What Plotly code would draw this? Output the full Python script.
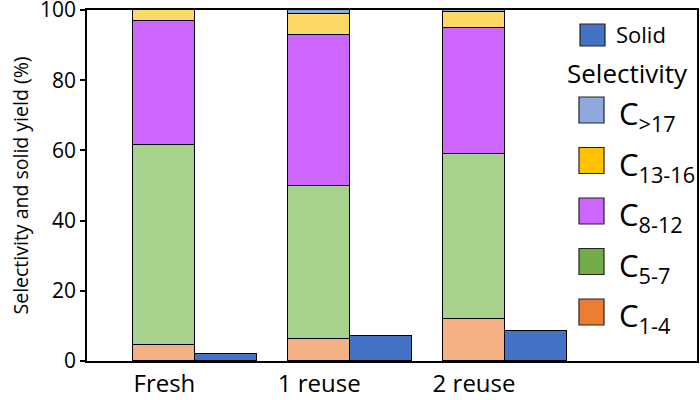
import plotly.graph_objects as go

_FONT = "Open Sans, sans-serif"
_EDGE = "#000000"

# ---- data (percent) ----
categories = ["Fresh", "1 reuse", "2 reuse"]
c1_4 = [4.6, 6.2, 11.9]
c5_7 = [57.0, 43.7, 47.2]
c8_12 = [35.4, 43.0, 35.7]
c13_16 = [3.0, 6.0, 4.5]
c_gt17 = [0.0, 1.1, 0.7]
solid_yield = [2.0, 7.0, 8.6]

# segment name, bar fill, legend swatch
fractions = [
    ("C<sub>1-4</sub>", c1_4, "#F4B183", "#ED7D31"),
    ("C<sub>5-7</sub>", c5_7, "#A9D18E", "#70AD47"),
    ("C<sub>8-12</sub>", c8_12, "#CC66FF", "#CC66FF"),
    ("C<sub>13-16</sub>", c13_16, "#FFD966", "#FFC000"),
    ("C<sub>&gt;17</sub>", c_gt17, "#8FAADC", "#8FAADC"),
]
SOLID_COLOR = "#4472C4"

BAR_W = 0.4
pos = list(range(len(categories)))
pos_solid = [p + BAR_W for p in pos]

fig = go.Figure()
for name, vals, fill, _ in fractions:
    fig.add_trace(go.Bar(
        x=pos, y=vals, width=BAR_W, name=name, showlegend=False,
        marker=dict(color=fill, line=dict(color=_EDGE, width=1.5)),
    ))
fig.add_trace(go.Bar(
    x=pos_solid, y=solid_yield, width=BAR_W, name="Solid", showlegend=False,
    marker=dict(color=SOLID_COLOR, line=dict(color=_EDGE, width=1.5)),
))

# ---- hand-built legend (big swatches like the original) ----
# plot area in pixels: x 87..697, y 10..361
L, R, T, B = 87, 697, 10, 361


def px(x):
    return (x - L) / (R - L)


def py(y):
    return (B - y) / (B - T)


shapes = []
annotations = []


def swatch(x0, y0, x1, y1, color):
    shapes.append(dict(type="rect", xref="paper", yref="paper",
                       x0=px(x0), x1=px(x1), y0=py(y1), y1=py(y0),
                       fillcolor=color, line=dict(color="#222222", width=1.2)))


swatch(580, 24, 605, 46, SOLID_COLOR)
annotations.append(dict(text="Solid", x=px(614), y=py(34), xref="paper", yref="paper",
                        xanchor="left", yanchor="middle", showarrow=False,
                        font=dict(family=_FONT, size=22, color="#000000")))
annotations.append(dict(text="Selectivity", x=px(627), y=py(73), xref="paper", yref="paper",
                        xanchor="center", yanchor="middle", showarrow=False,
                        font=dict(family=_FONT, size=26, color="#000000")))

legend_order = list(reversed(fractions))
for i, (name, _, _, sw) in enumerate(legend_order):
    cy = 110 + i * 50.5
    swatch(579, cy - 13, 604, cy + 13, sw)
    annotations.append(dict(text=name, x=px(617), y=py(cy + 5), xref="paper", yref="paper",
                            xanchor="left", yanchor="middle", showarrow=False,
                            font=dict(family=_FONT, size=31, color="#000000")))

fig.update_layout(
    width=700, height=400,
    barmode="stack",
    bargap=0,
    paper_bgcolor="#ffffff",
    plot_bgcolor="#ffffff",
    margin=dict(l=L, r=700 - R, t=T, b=400 - B),
    font=dict(family=_FONT, color="#000000"),
    showlegend=False,
    shapes=shapes,
    annotations=annotations,
    xaxis=dict(
        range=[-0.5, 3.44], automargin=False,
        tickvals=pos, ticktext=categories,
        ticks="", showgrid=False, zeroline=False,
        showline=True, linecolor="#000000", linewidth=1.5, mirror=True,
        tickfont=dict(family=_FONT, size=24, color="#000000"),
    ),
    yaxis=dict(
        range=[0, 100], dtick=20, automargin=False,
        ticks="outside", ticklen=5, tickwidth=1.5, tickcolor="#000000",
        ticklabeloverflow="allow",
        showgrid=False, zeroline=False,
        showline=True, linecolor="#000000", linewidth=1.5, mirror=True,
        tickfont=dict(family=_FONT, size=21, color="#000000"),
        title=dict(text="Selectivity and solid yield (%)", standoff=6,
                   font=dict(family=_FONT, size=19.5, color="#000000")),
    ),
)

# drop the default 8px body margin so the figure sits at the window corner
fig.write_html("out.html", config={"displayModeBar": False},
               post_script="document.body.style.margin='0';")
